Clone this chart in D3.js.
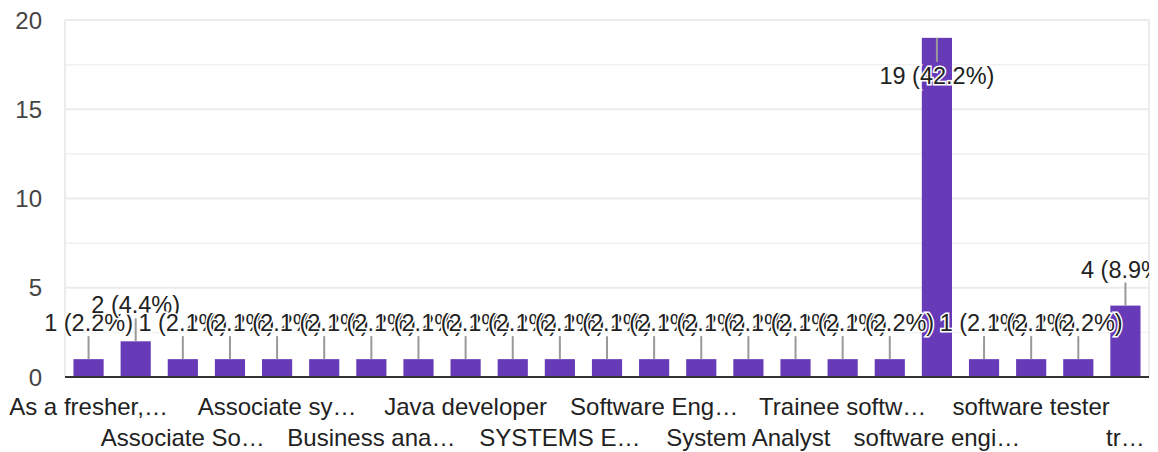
<!DOCTYPE html>
<html>
<head>
<meta charset="utf-8">
<script src="https://cdn.jsdelivr.net/npm/d3@7"></script>
<style>
  body { margin: 0; background: #fff; }
  text { font-family: Arial, "Liberation Sans", sans-serif; }
</style>
</head>
<body>
<div id="chart"></div>
<script>
// categories (x tick labels as shown, hidden ones in between)
const categories = [
  "As a fresher,…", "Associate Co…", "Associate So…", "Associate Sof…",
  "Associate sy…", "Associate te…", "Business ana…", "Data Analyst",
  "Java developer", "Python devel…", "SYSTEMS E…", "Software Dev…",
  "Software Eng…", "Software Test…", "System Analyst", "Test Engineer",
  "Trainee softw…", "Web developer", "software engi…", "software devel…",
  "software tester", "system engin…", "tr…"
];
const counts = [1, 2, 1, 1, 1, 1, 1, 1, 1, 1, 1, 1, 1, 1, 1, 1, 1, 1, 19, 1, 1, 1, 4];
const yTicks = [0, 5, 10, 15, 20];
const total = d3.sum(counts);

const W = 1158, H = 452;
const plotLeft = 65, plotRight = 1149, plotTop = 20, plotBottom = 377;

const svg = d3.select("#chart").append("svg")
  .attr("width", W)
  .attr("height", H);

const x = d3.scaleBand()
  .domain(d3.range(categories.length))
  .range([plotLeft, plotRight])
  .paddingInner(0.36)
  .paddingOuter(0.18);

const y = d3.scaleLinear().domain([0, 20]).range([plotBottom, plotTop]);

// minor grid (every 2.5)
svg.append("g").selectAll("line")
  .data(d3.range(2.5, 20, 5))
  .join("line")
  .attr("x1", plotLeft).attr("x2", plotRight)
  .attr("y1", d => y(d)).attr("y2", d => y(d))
  .attr("stroke", "#f1f1f1").attr("stroke-width", 1.5);

// major grid
svg.append("g").selectAll("line")
  .data(yTicks.slice(1))
  .join("line")
  .attr("x1", plotLeft).attr("x2", plotRight)
  .attr("y1", d => y(d)).attr("y2", d => y(d))
  .attr("stroke", "#ebebeb").attr("stroke-width", 2);

// side borders
svg.append("g").selectAll("line")
  .data([plotLeft, plotRight])
  .join("line")
  .attr("x1", d => d).attr("x2", d => d)
  .attr("y1", plotTop).attr("y2", plotBottom)
  .attr("stroke", "#ebebeb").attr("stroke-width", 2);

// y tick labels
svg.append("g").selectAll("text")
  .data(yTicks)
  .join("text")
  .attr("x", 42)
  .attr("y", d => y(d))
  .attr("dy", "0.36em")
  .attr("text-anchor", "end")
  .attr("font-size", 24)
  .attr("fill", "#444")
  .text(d => d);

// bars
svg.append("g").selectAll("rect")
  .data(counts)
  .join("rect")
  .attr("x", (d, i) => x(i))
  .attr("width", x.bandwidth())
  .attr("y", d => y(d))
  .attr("height", d => plotBottom - y(d))
  .attr("fill", "#673ab7");

// baseline
svg.append("line")
  .attr("x1", plotLeft).attr("x2", plotRight)
  .attr("y1", plotBottom).attr("y2", plotBottom)
  .attr("stroke", "#333").attr("stroke-width", 2);

// x labels, every other one, alternating rows
svg.append("g").selectAll("text")
  .data(categories.map((c, i) => ({c, i})).filter(d => d.i % 2 === 0))
  .join("text")
  .attr("x", d => x(d.i) + x.bandwidth() / 2)
  .attr("y", d => (d.i % 4 === 0) ? 415 : 446)
  .attr("text-anchor", "middle")
  .attr("font-size", 24)
  .attr("fill", "#222")
  .text(d => d.c);

// data labels with leader lines
svg.append("clipPath").attr("id", "plotclip")
  .append("rect").attr("x", 0).attr("y", 0).attr("width", 1149).attr("height", H);

const ann = svg.append("g").attr("clip-path", "url(#plotclip)");
const lab = counts.map((d, i) => {
  const t = y(d);
  const inside = t - 28 < 40;
  return {
    i, d,
    cx: x(i) + x.bandwidth() / 2,
    barTop: t,
    lineEnd: inside ? t + 24 : t - 23,
    base: inside ? t + 46 : t - 28
  };
});

ann.selectAll("line")
  .data(lab)
  .join("line")
  .attr("x1", d => d.cx).attr("x2", d => d.cx)
  .attr("y1", d => d.barTop).attr("y2", d => d.lineEnd)
  .attr("stroke", "#999").attr("stroke-width", 2);

ann.selectAll("text")
  .data(lab)
  .join("text")
  .attr("x", d => d.cx)
  .attr("y", d => d.base)
  .attr("text-anchor", "middle")
  .attr("font-size", 23.5)
  .attr("fill", "#222")
  .attr("stroke", "#fff")
  .attr("stroke-width", 3)
  .attr("paint-order", "stroke")
  .text(d => `${d.d} (${(d.d / total * 100).toFixed(1)}%)`);
</script>
</body>
</html>
